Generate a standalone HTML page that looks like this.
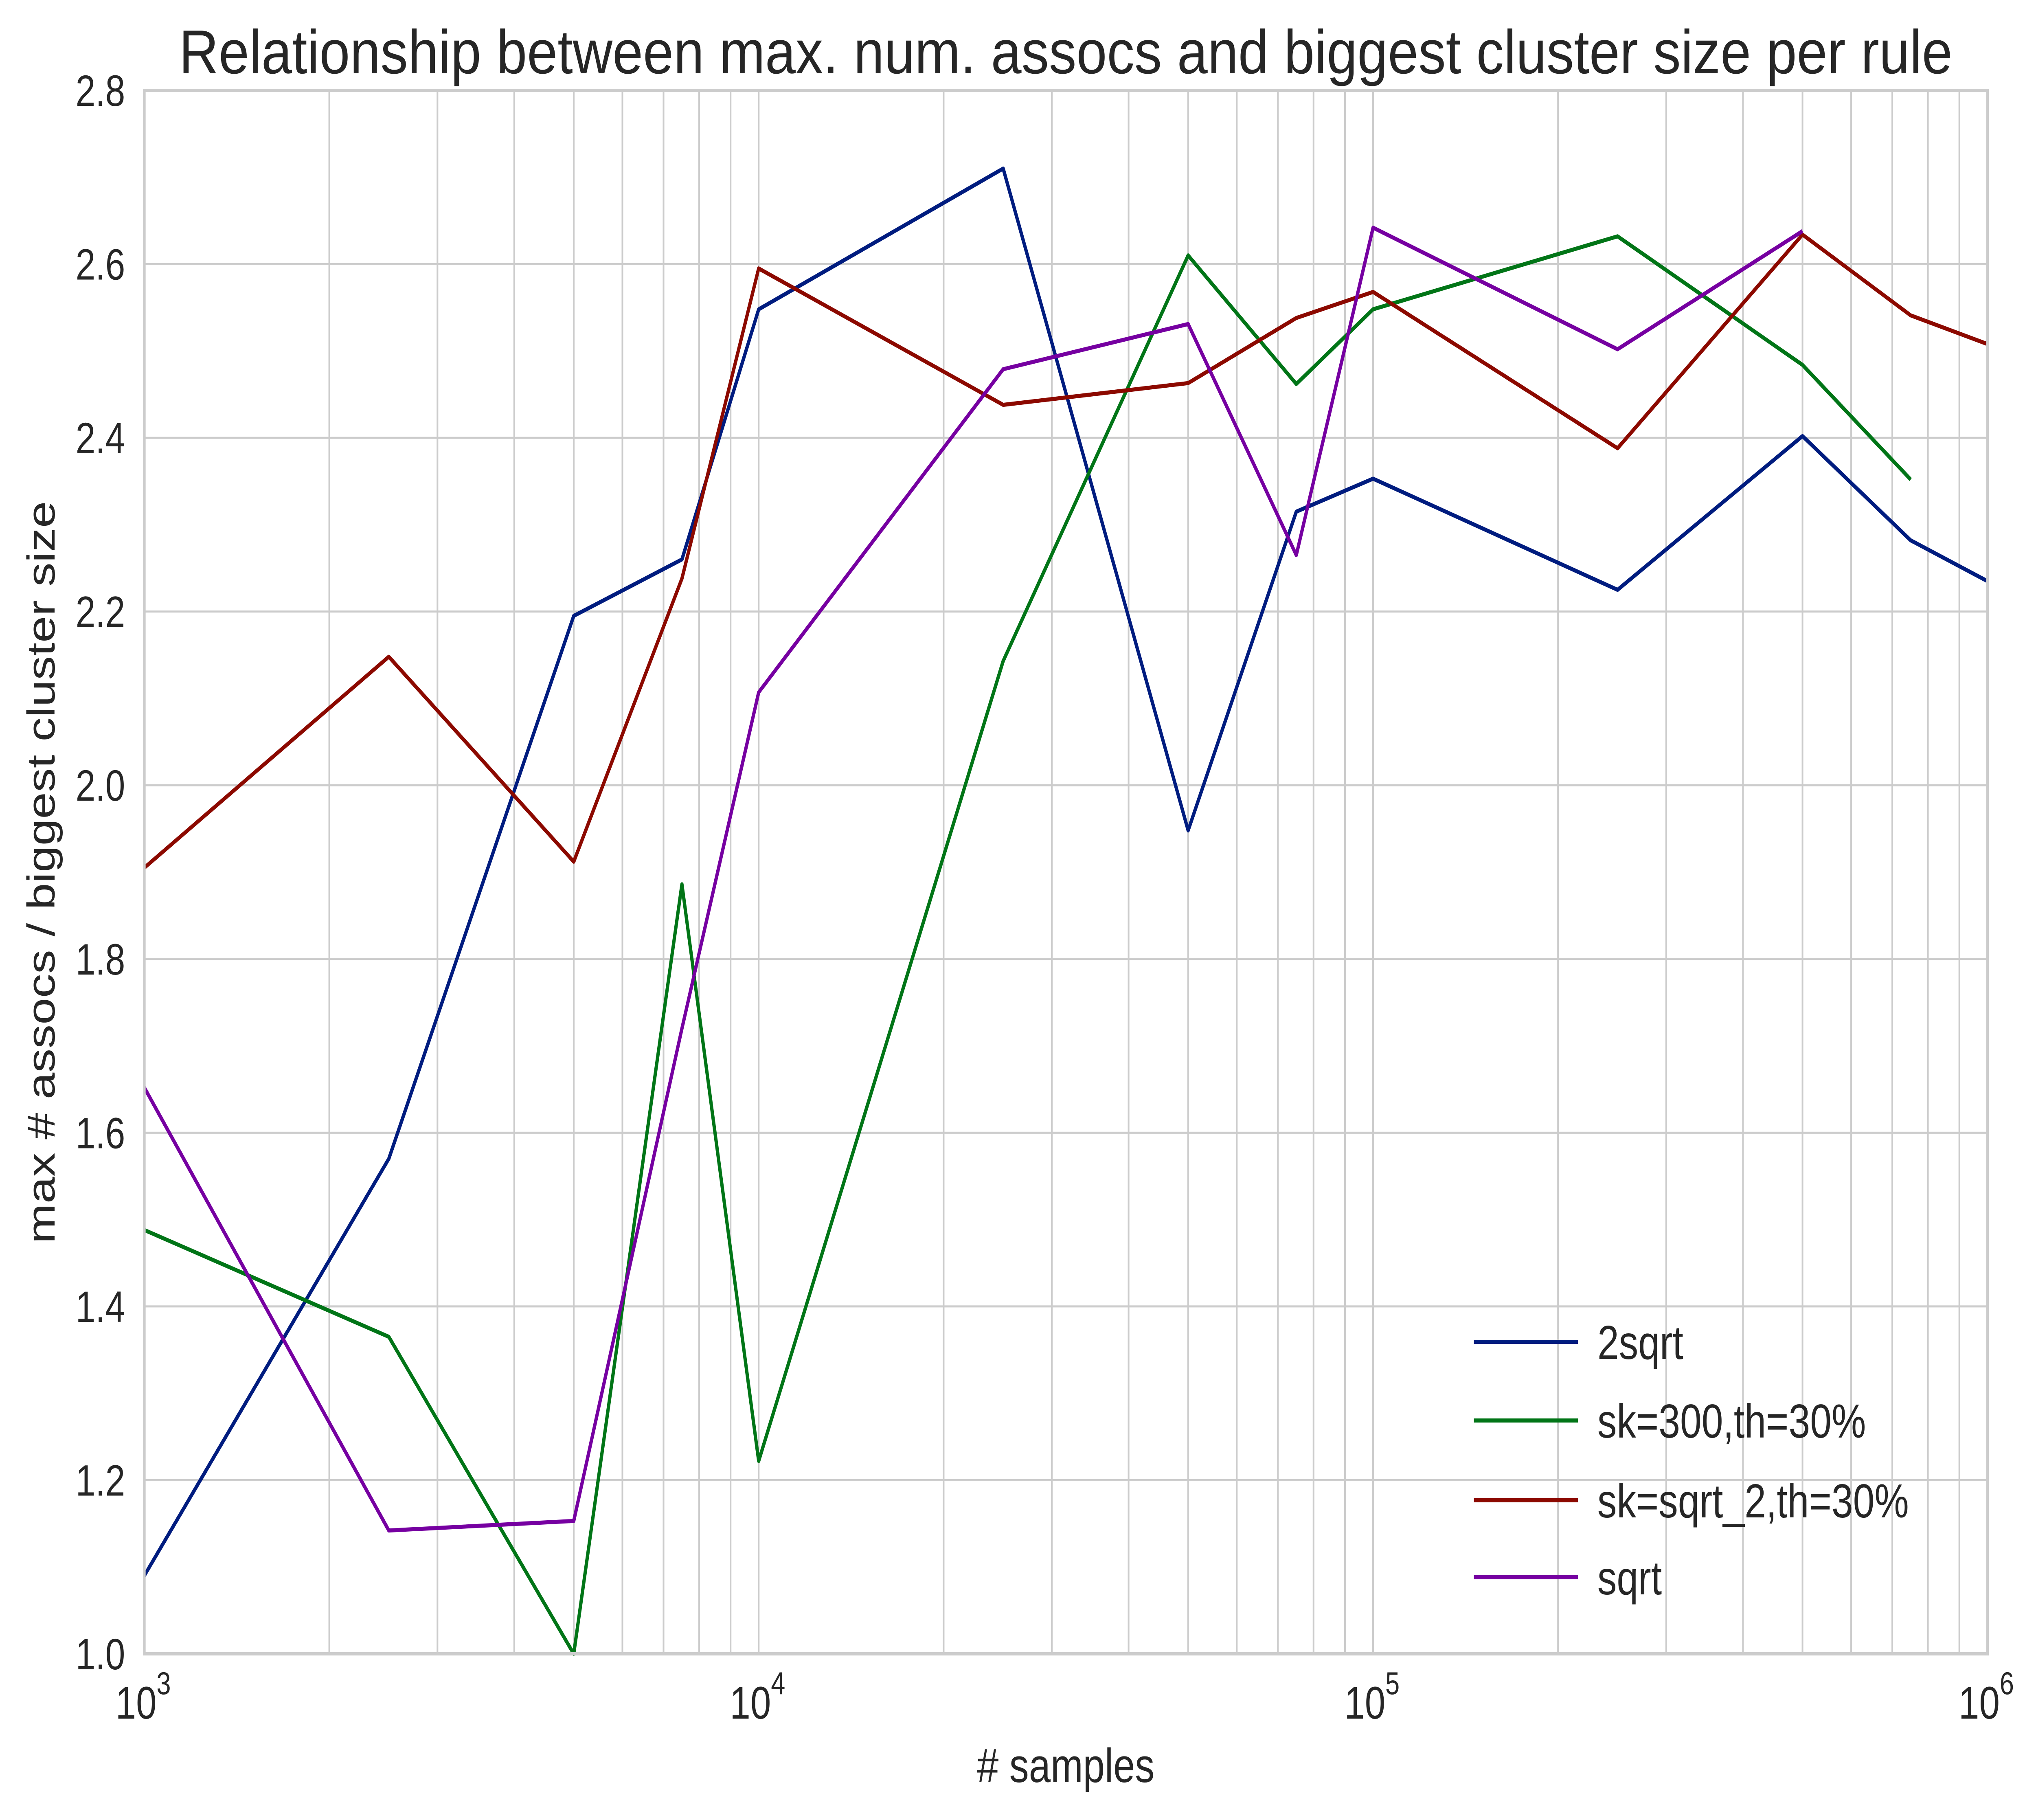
<!DOCTYPE html>
<html><head><meta charset="utf-8"><style>html,body{margin:0;padding:0;background:#fff;overflow:hidden;width:100%;height:100%}svg{display:block;width:100vw;height:100vh}</style></head>
<body>
<svg id="chart" viewBox="0 0 6165 4469" preserveAspectRatio="none" xmlns="http://www.w3.org/2000/svg" font-family="'Liberation Sans', Arial, sans-serif">
<rect width="6165" height="4469" fill="#fff"/>
<g id="grid"></g>
<g id="series"></g>
<rect x="437" y="222" width="5581" height="3839" fill="none" stroke="#cccccc" stroke-width="8"/>
<g id="ticks" fill="#262626"></g>
<text x="3227" y="180" text-anchor="middle" font-size="152" fill="#262626" textLength="5370" lengthAdjust="spacingAndGlyphs">Relationship between max. num. assocs and biggest cluster size per rule</text>
<text x="3227" y="4376" text-anchor="middle" font-size="118" fill="#262626"># samples</text>
<text transform="translate(165,2142) rotate(-90)" text-anchor="middle" font-size="118" fill="#262626">max # assocs / biggest cluster size</text>
<g id="legend"></g>
</svg>
<script>
const xSamples = [1000, 2500, 5000, 7500, 10000, 25000, 50000, 75000, 100000, 250000, 500000, 750000, 1000000];
const seriesNames = ["2sqrt", "sk=300,th=30%", "sk=sqrt_2,th=30%", "sqrt"];
const s2sqrt = [1.09, 1.57, 2.195, 2.26, 2.548, 2.71, 1.948, 2.315, 2.353, 2.225, 2.402, 2.282, 2.235];
const sSk300 = [1.488, 1.365, 1.0, 1.886, 1.222, 2.143, 2.61, 2.462, 2.548, 2.632, 2.484, 2.352];
const sSkSqrt2 = [1.905, 2.148, 1.912, 2.238, 2.595, 2.438, 2.463, 2.538, 2.568, 2.388, 2.634, 2.541, 2.508];
const sSqrt = [1.652, 1.142, 1.153, 1.72, 2.107, 2.479, 2.531, 2.265, 2.642, 2.502, 2.638];
const yTicks = [1.0, 1.2, 1.4, 1.6, 1.8, 2.0, 2.2, 2.4, 2.6, 2.8];
const xTickExps = [3, 4, 5, 6];

const L=437,R=6018,T=222,B=4061, XMIN=3, XMAX=6, YMIN=1.0, YMAX=2.8;
const colors=["#001c7f","#017517","#8c0900","#7600a1"];
const NS="http://www.w3.org/2000/svg";
function xs(v){return L+(Math.log10(v)-XMIN)/(XMAX-XMIN)*(R-L);}
function ys(v){return B-(v-YMIN)/(YMAX-YMIN)*(B-T);}
function mk(tag,attrs,parent){const e=document.createElementNS(NS,tag);for(const k in attrs)e.setAttribute(k,attrs[k]);parent.appendChild(e);return e;}
const grid=document.getElementById('grid'),ticks=document.getElementById('ticks'),ser=document.getElementById('series'),leg=document.getElementById('legend');
for(let e=XMIN;e<XMAX;e++){for(let m=1;m<=9;m++){const x=xs(m*Math.pow(10,e));
  const g=mk('line',{x1:x,x2:x,y1:T,y2:B,stroke:'#cccccc','stroke-width':5},grid);
  
  }}
yTicks.forEach(v=>{const y=ys(v);
  const g=mk('line',{x1:L,x2:R,y1:y,y2:y,stroke:'#cccccc','stroke-width':5},grid);
  
  
  const t=mk('text',{x:379,y:y+38,'text-anchor':'end','font-size':108},ticks);
  t.textContent=v.toFixed(1);
  
  });
xTickExps.forEach(e=>{const x=xs(Math.pow(10,e));
  const t=mk('text',{x:x-25,y:4220,'text-anchor':'middle','font-size':112},ticks);
  t.textContent='10';
  
  
  const s=mk('text',{x:x+37,y:4160,'text-anchor':'start','font-size':78},ticks);
  s.textContent=String(e);
  
  });
const allSeries=[s2sqrt,sSk300,sSkSqrt2,sSqrt];
allSeries.forEach((vals,i)=>{const pts=vals.map((v,j)=>xs(xSamples[j]).toFixed(1)+','+ys(v).toFixed(1)).join(' ');
  const p=mk('polyline',{points:pts,fill:'none',stroke:colors[i],'stroke-width':10,'stroke-linejoin':'round'},ser);
  
  });
const legY=[3295,3488,3684,3873];
seriesNames.forEach((n,i)=>{
  const l=mk('line',{x1:4463,x2:4778,y1:legY[i],y2:legY[i],stroke:colors[i],'stroke-width':10},leg);
  
  
  const t=mk('text',{x:4837,y:legY[i]+42,'font-size':117,fill:'#262626'},leg);
  t.textContent=n;
  
  });
</script>
</body></html>
